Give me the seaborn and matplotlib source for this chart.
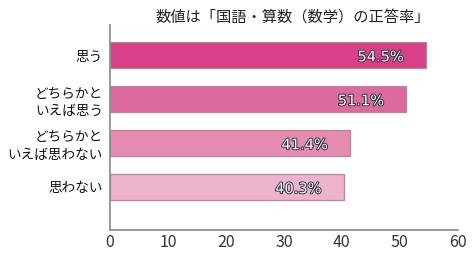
import matplotlib
matplotlib.use("Agg")
import matplotlib.pyplot as plt
import matplotlib.patheffects as pe
import seaborn as sns
import pandas as pd

categories = ["思う", "どちらかと\nいえば思う", "どちらかと\nいえば思わない", "思わない"]
values = [54.5, 51.1, 41.4, 40.3]
value_labels = ["54.5%", "51.1%", "41.4%", "40.3%"]
bar_colors = ["#D8418A", "#DC6A9C", "#E68BB2", "#ECB3CC"]
x_ticks = [0, 10, 20, 30, 40, 50, 60]
title = "数値は「国語・算数（数学）の正答率」"

sns.set_theme(style="white")
plt.rcParams['font.family'] = ['Noto Sans CJK JP', 'DejaVu Sans']

df = pd.DataFrame({"cat": categories, "val": values})

fig = plt.figure(figsize=(4.72, 2.56), dpi=100)
ax = fig.add_axes([0.233, 0.1016, 0.737, 0.80])

sns.barplot(data=df, x="val", y="cat", hue="cat", palette=bar_colors,
            legend=False, width=0.6, ax=ax, edgecolor="#B8869A", linewidth=0.9,
            orient="h", saturation=1)

for i, (v, lab) in enumerate(zip(values, value_labels)):
    ax.annotate(lab, xy=(v, i + 0.04), xytext=(-16, 0), textcoords="offset points",
                ha="right", va="center", fontsize=10.5, color="white",
                family=['DejaVu Sans'],
                path_effects=[pe.withStroke(linewidth=1.3, foreground="#2a2a3a")])

ax.set_xlim(0, 60)
ax.set_ylim(3.98, -0.68)
ax.set_xticks(x_ticks)
ax.set_xticklabels([str(t) for t in x_ticks], fontsize=11.5, color="#333333")
ax.tick_params(axis="x", direction="in", length=5, width=1, color="#888888", pad=3)
ax.tick_params(axis="y", length=0, pad=5, labelsize=9.8, labelcolor="#111111")
for lab in ax.get_yticklabels():
    lab.set_horizontalalignment("right")
    lab.set_multialignment("right")
    lab.set_linespacing(1.3)
ax.set_xlabel("")
ax.set_ylabel("")
for s in ["top", "right"]:
    ax.spines[s].set_visible(False)
for s in ["left", "bottom"]:
    ax.spines[s].set_color("#888888")
    ax.spines[s].set_linewidth(1.2)

fig.text(0.62, 0.935, title, ha="center", va="center", fontsize=11, color="#222222")

fig.savefig("out.png", dpi=100)
